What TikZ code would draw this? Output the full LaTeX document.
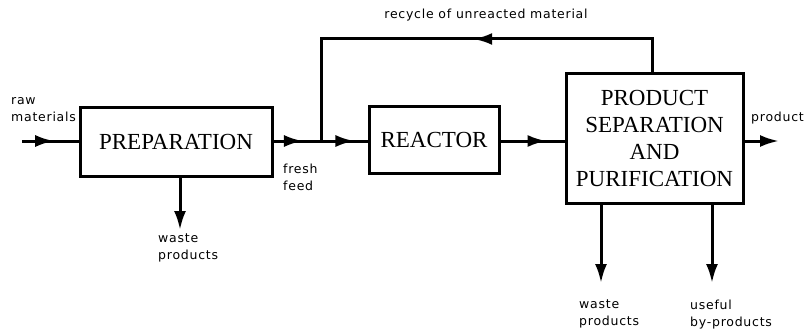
\documentclass[tikz,border=0pt]{standalone}
\usepackage{fontspec}
\setmainfont{Liberation Serif}
\newfontfamily\labfont[LetterSpace=6]{DejaVu Sans}
\usetikzlibrary{arrows.meta,decorations.markings}
\tikzset{
  flow/.style={line width=3pt},
  tipA/.tip={Latex[length=19pt,width=12pt]},
  midarrow/.style={postaction={decorate,decoration={markings,mark=at position #1 with {\arrow{tipA}}}}},
  endarrow/.style={-{tipA}},
  box/.style={draw,line width=3pt,inner sep=0pt,font=\fontsize{23}{27}\selectfont,align=center},
  lab/.style={font=\labfont\fontsize{12.5}{17}\selectfont,align=left,inner sep=0pt,anchor=north west},
}
\begin{document}
\begin{tikzpicture}[x=1pt,y=-1pt]
\useasboundingbox (0,0) rectangle (805,334);
\node[box,minimum width=192pt,minimum height=68pt] (prep) at (176,142) {PREPARATION};
\node[box,minimum width=130pt,minimum height=66pt] (reac) at (434,140) {REACTOR};
\node[box,minimum width=177pt,minimum height=129pt] (sep) at (654.5,138.5) {PRODUCT\\SEPARATION\\AND\\PURIFICATION};
\coordinate (raw) at (22,141);
\coordinate (jn) at (321,141);
\coordinate (rtop) at (321,39);
\coordinate (stop) at (652,39);
\coordinate (prodend) at (779,141);
\coordinate (w1) at (180,230);
\coordinate (w2) at (601,283);
\coordinate (w3) at (712,283);
\draw[flow,midarrow=0.57] (raw) -- (raw -| prep.west);
\draw[flow,midarrow=0.62] (prep.east |- jn) -- (jn);
\draw[flow,midarrow=0.72] (jn) -- (jn -| reac.west);
\draw[flow,midarrow=0.72] (reac.east |- jn) -- (jn -| sep.west);
\draw[flow,endarrow] (sep.east |- jn) -- (prodend);
\draw[flow,midarrow=0.455] (stop |- sep.north) -- (stop) -- (rtop) -- (jn);
\draw[flow,endarrow] (w1 |- prep.south) -- (w1);
\draw[flow,endarrow] (w2 |- sep.south) -- (w2);
\draw[flow,endarrow] (w3 |- sep.south) -- (w3);
\node[lab] (lraw) at (11,97) {raw\\materials};
\node[lab] (lfresh) at (283,164) {fresh\\feed};
\node[lab] (lw1) at (158,234) {waste\\products};
\node[lab,anchor=north] (lrec) at (486,9) {recycle of unreacted material};
\node[lab] (lprod) at (751,112) {product};
\node[lab] (lw2) at (579,300) {waste\\products};
\node[lab] (lby) at (690,300) {useful\\by-products};
\end{tikzpicture}
\end{document}
